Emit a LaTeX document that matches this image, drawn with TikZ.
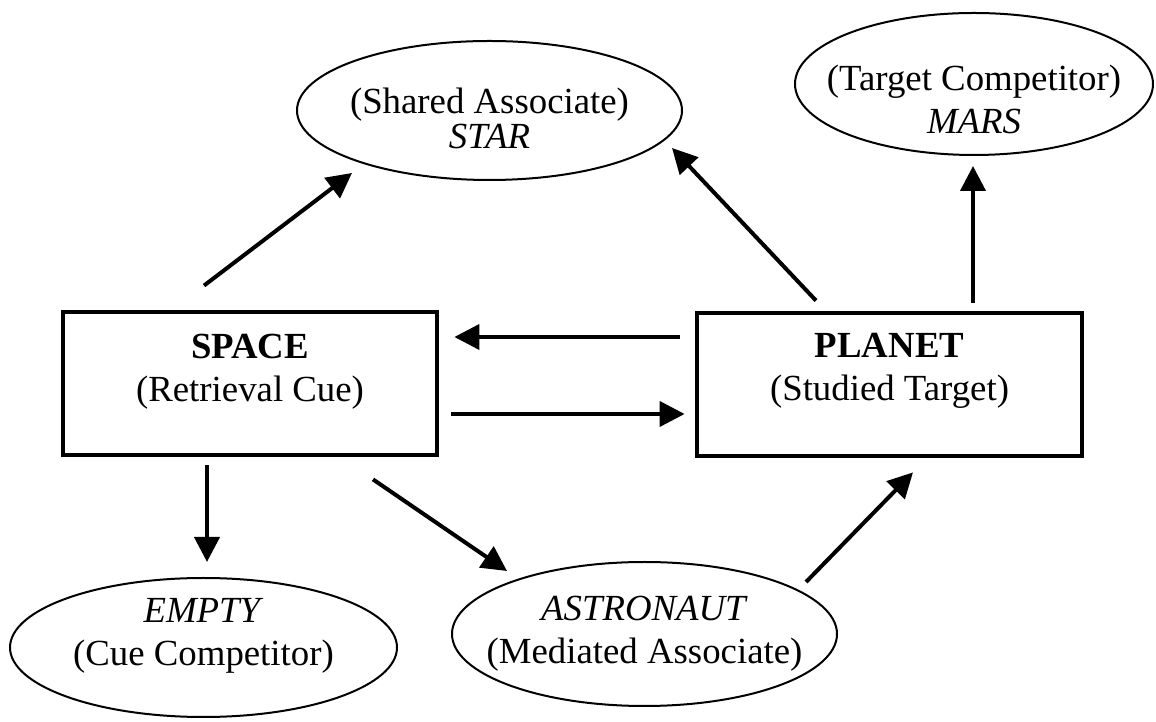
\documentclass[tikz,border=0pt]{standalone}
\usepackage{fontspec}
\setmainfont{Liberation Serif}
\usetikzlibrary{shapes.geometric,arrows.meta}

\begin{document}
\begin{tikzpicture}[
        x=0.5pt, y=0.5pt,
        every node/.style={font=\fontsize{18.4}{21.5}\selectfont, align=center},
        wordbox/.style={draw, line width=2.4pt, minimum height=71.5pt, inner sep=0pt},
        assoc/.style={draw, ellipse, line width=1pt, inner sep=-20pt},
        arrow/.style={-{Triangle[length=12.5pt, width=12.5pt]}, line width=2pt}
    ]
        \useasboundingbox (0,0) rectangle (1156,722);

        % cue and target
        \node[wordbox, minimum width=187pt, text depth=15.8pt] (space) at (250,338.5) {\textbf{SPACE}\\(Retrieval Cue)};
        \node[wordbox, minimum width=192.5pt, text depth=17.8pt] (planet) at (889.5,337.5) {\textbf{PLANET}\\(Studied Target)};

        % associates and competitors
        \node[assoc, minimum width=192.5pt, minimum height=69.5pt, text height=38pt, text depth=0pt] (shared) at (489.5,611.5) {(Shared Associate)\\[-4pt]\textit{STAR}};
        \node[assoc, minimum width=179pt, minimum height=71pt, text height=49.5pt, text depth=0pt] (target) at (974,638) {(Target Competitor)\\\textit{MARS}};
        \node[assoc, minimum width=193.5pt, minimum height=69.5pt, text depth=15.5pt] (empty) at (203.5,74.5) {\textit{EMPTY}\\(Cue Competitor)};
        \node[assoc, minimum width=192.5pt, minimum height=72pt] (astronaut) at (644.5,88) {\textit{ASTRONAUT}\\(Mediated Associate)};

        \draw[arrow] ([shift={(-46,24)}]space.north) -- ([shift={(-137.5,8)}]shared.south);
        \draw[arrow] ([shift={(-73.5,10)}]planet.north) -- ([shift={(-11,-37.5)}]shared.east);
        \draw[arrow] ([shift={(83.5,8)}]planet.north) -- ([shift={(-1,-10)}]target.south);
        \draw[arrow] ([shift={(-15,47.5)}]planet.west) -- ([shift={(15,46.5)}]space.east);
        \draw[arrow] ([shift={(12,-30.5)}]space.east) -- ([shift={(-10,-29.5)}]planet.west);
        \draw[arrow] ([shift={(-43,-8)}]space.south) -- ([shift={(3.5,15)}]empty.north);
        \draw[arrow] ([shift={(123,-22)}]space.south) -- ([shift={(-137.5,-10)}]astronaut.north);
        \draw[arrow] ([shift={(161.5,-21)}]astronaut.north) -- ([shift={(23.5,-14)}]planet.south);
    \end{tikzpicture}
\end{document}
